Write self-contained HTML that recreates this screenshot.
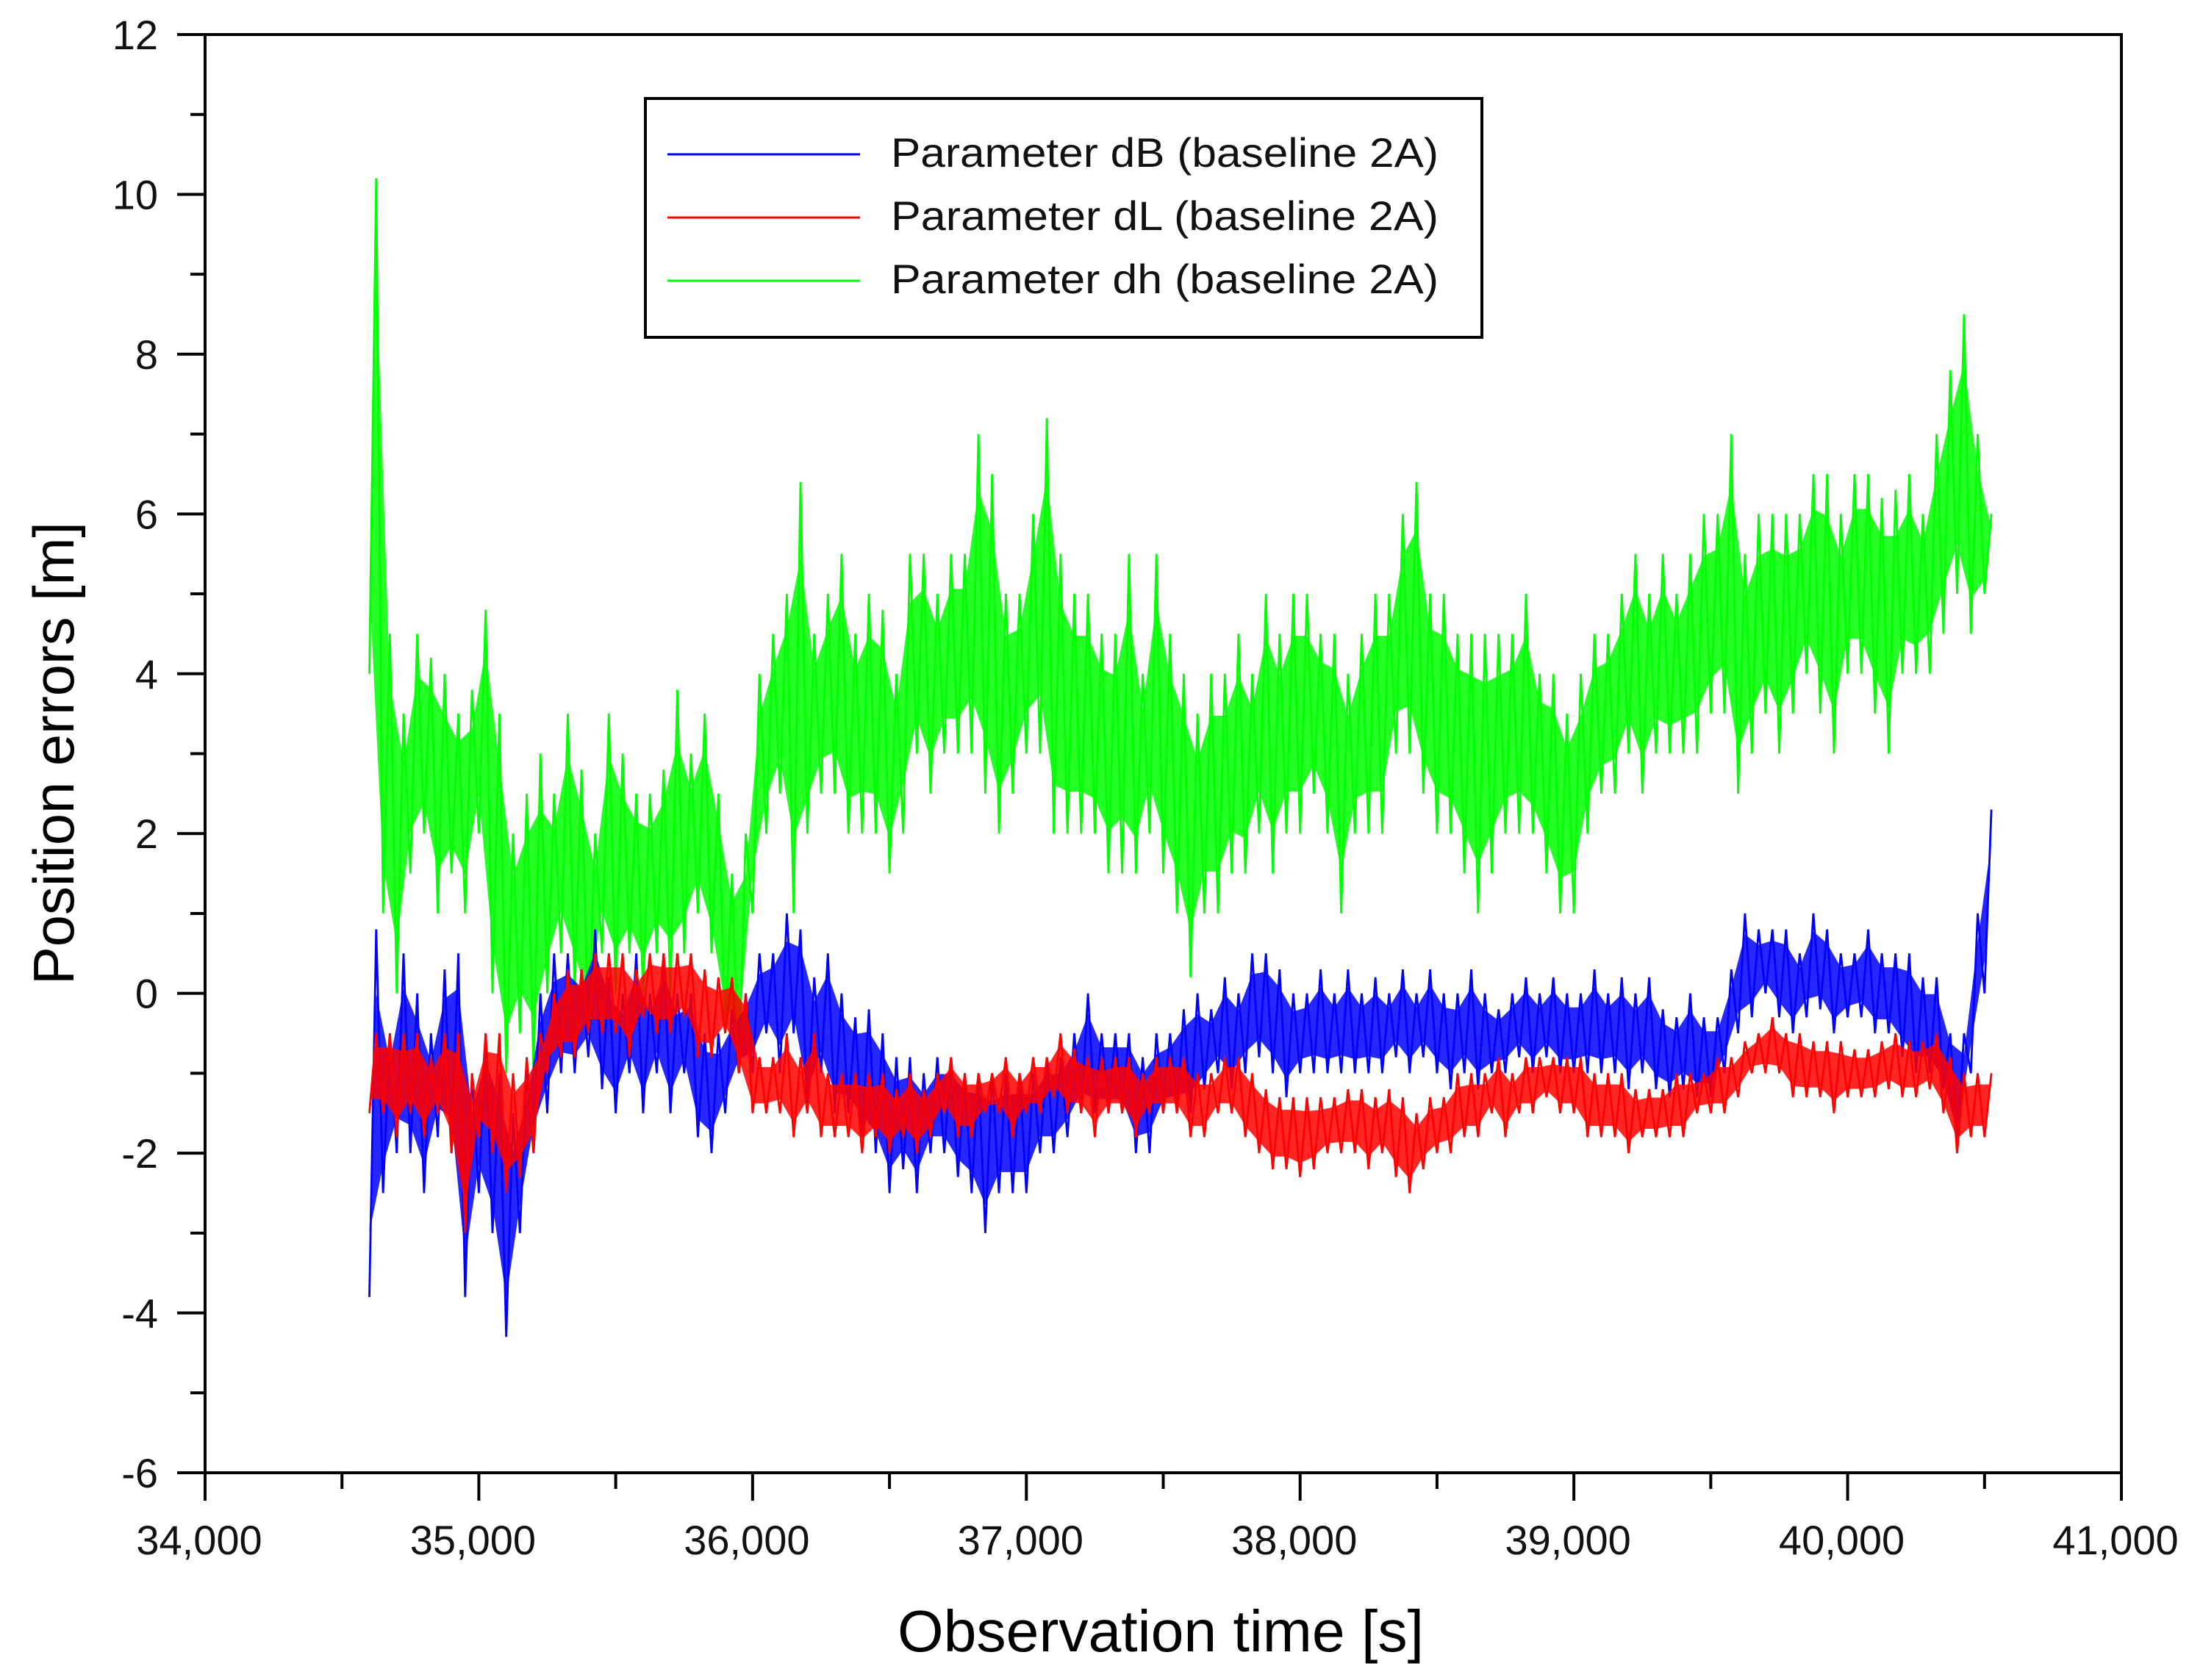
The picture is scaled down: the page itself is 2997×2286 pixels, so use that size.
<!DOCTYPE html>
<html><head><meta charset="utf-8"><style>
html,body{margin:0;padding:0;background:#fff;}
svg{display:block;font-family:"Liberation Sans",Arial,sans-serif;}
</style></head><body>
<svg id="chart" width="2997" height="2286" viewBox="0 0 2997 2286" xmlns="http://www.w3.org/2000/svg">
<rect width="2997" height="2286" fill="#fff"/>
<g id="series"></g>
<g id="axes"></g>
<g id="legend">
<rect x="878" y="134" width="1138" height="325" fill="#fff" stroke="#000" stroke-width="4"/>
<line x1="908" y1="210" x2="1170" y2="210" stroke="#0000ff" stroke-width="3"/>
<line x1="908" y1="296" x2="1170" y2="296" stroke="#ff0000" stroke-width="3"/>
<line x1="908" y1="382" x2="1170" y2="382" stroke="#00ff00" stroke-width="3"/>
<text x="1212" y="227" font-size="56" textLength="745" lengthAdjust="spacingAndGlyphs" fill="#111">Parameter dB (baseline 2A)</text>
<text x="1212" y="313" font-size="56" textLength="745" lengthAdjust="spacingAndGlyphs" fill="#111">Parameter dL (baseline 2A)</text>
<text x="1212" y="399" font-size="56" textLength="745" lengthAdjust="spacingAndGlyphs" fill="#111">Parameter dh (baseline 2A)</text>
</g>
<text x="1579" y="2247" font-size="80" text-anchor="middle" textLength="716" lengthAdjust="spacingAndGlyphs" fill="#000">Observation time [s]</text>
<text transform="translate(100,1025) rotate(-90)" font-size="78" text-anchor="middle" textLength="630" lengthAdjust="spacingAndGlyphs" fill="#000">Position errors [m]</text>
</svg>
<script>
const xTicks = [34000,35000,36000,37000,38000,39000,40000,41000];
const xTickLabels = ["34,000","35,000","36,000","37,000","38,000","39,000","40,000","41,000"];
const yTicks = [-6,-4,-2,0,2,4,6,8,10,12];
const yTickLabels = ["-6","-4","-2","0","2","4","6","8","10","12"];
const startTime = 34600;
const stepSec = 50;
const dhLo = [4,1,0,1.5,2,1,1.5,1,2,0,-1,-0.5,-1,0,0.5,0,-0.5,0.5,0,0.5,0,0.5,0,0.5,1,0.5,-0.5,-1,1,2,2.5,1,2,2.5,2.5,2,2,2,1.5,2,3,2.5,3,3,3,2.5,2,2.5,3,3,2,2,2,2,1.5,1.5,1.5,2,1.5,1,0.2,1,1,1.5,1.5,2,1.5,2,2,2.5,2,1,2,2,2,3,3,2.5,2,2,1.5,1,1.5,2,2,2,1.5,1,1,2,2.5,2.5,3,2.5,3,3,3,3,3.5,3.5,2.5,3,3.5,3,3.5,4,3.5,3,4,4,3.5,3,4,4,4,4.5,5,4.5,5];
const dhHi = [10.2,4.5,3.5,4.5,4.2,4,3.5,3.8,4.8,3.5,2,2.5,3,2.5,3.5,2.8,2,3.5,3,2.5,2.5,2.8,3.8,3,3.5,2.5,1.5,2,4,4.5,5,6.4,4.5,5,5.5,4.5,5,4.8,4,5.5,5.5,5,5.5,5.5,7,6.5,5,5,6,7.2,5.5,5,5,4.5,4.5,5.5,4,5.5,4.5,4,3.5,4,4,4.5,4,5,4.5,5,5,4.5,4.5,4,4.5,5,5,6,6.4,5,5,4.5,4.5,4.5,4.5,4.5,5,4,4,3.5,4,4.5,4.5,5,5.5,5,5.5,5,5.5,6,6,7,5.5,6,6,6,6,6.5,6.5,6,6.5,6.5,6.2,6.3,6.5,6,7,7.8,8.5,7,6];
const dbLo = [-3.8,-2.5,-2,-2,-2.5,-1.8,-2,-3.8,-2.5,-3,-4.3,-3,-2,-1.5,-1,-1,-0.8,-1.2,-1.5,-1,-1.5,-1,-1.5,-1,-1.8,-2,-1.5,-1,-1,-0.5,-1,-0.5,-1.5,-1,-1.5,-1.5,-1.8,-2,-2.5,-2.2,-2.5,-2,-2,-2.3,-2.5,-3,-2.5,-2.5,-2.5,-2,-2,-1.8,-1.5,-1.5,-1.5,-1.5,-2,-2,-1.5,-1.5,-1.5,-1.2,-1,-1.2,-1,-0.8,-1,-1.3,-1,-1,-1,-1,-1,-1,-1,-0.8,-1,-0.8,-1,-1.2,-1,-1.2,-1,-1,-0.8,-1,-0.8,-1,-1,-1,-1,-1,-1.2,-1,-1.2,-1.3,-1.2,-1.3,-1.3,-1,-0.5,-0.3,0,-0.3,-0.5,-0.3,-0.2,-0.5,-0.3,-0.3,-0.5,-0.5,-0.8,-1,-1,-1.2,-2,-1,0];
const dbHi = [0.8,-0.5,0.5,0,-0.5,0.3,0.5,-1,-0.5,-1,-1.5,-1,0,0.5,0.5,0.3,0.8,0.2,0,0.5,0,0.5,0,0,-0.5,-0.5,-0.2,0,0.5,0.5,1,0.8,0.2,0.5,0,-0.3,-0.2,-0.5,-0.8,-0.8,-1,-0.8,-0.8,-1,-1,-1,-1,-1,-1,-0.8,-0.8,-0.5,0,-0.5,-0.5,-0.5,-0.8,-0.5,-0.5,-0.2,0,-0.2,0.2,0,0.5,0.5,0.3,0,0,0.3,0,0.3,0,0.2,0,0.3,0,0.3,0,0,0.3,0,-0.2,0,0.2,0,0.2,0,0,0.3,0,0.2,0,0.2,-0.2,-0.3,0,-0.3,-0.3,0.3,1,0.8,0.8,0.8,0.5,1,0.8,0.5,0.5,0.8,0.5,0.5,0.5,0.2,0.2,-0.5,-0.5,1,2.3];
const dlLo = [-1.5,-1.5,-1.8,-1.5,-1.8,-1.5,-2,-3,-1.8,-2,-2.5,-2.3,-2,-1,-0.8,-0.8,-0.5,-0.5,-0.5,-0.8,-0.3,-0.5,-0.5,-0.3,-0.8,-0.8,-0.5,-1,-1.5,-1.5,-1.5,-1.8,-1.5,-1.8,-1.8,-1.8,-2,-1.8,-2,-1.8,-2,-1.8,-1.5,-1.8,-1.8,-1.5,-1.5,-1.8,-1.5,-1.5,-1.3,-1.5,-1.5,-1.8,-1.5,-1.5,-1.8,-1.5,-1.5,-1.5,-1.8,-1.8,-1.5,-1.5,-1.8,-2,-2.2,-2.2,-2.3,-2.2,-2,-2,-2,-2.2,-2,-2.3,-2.5,-2.2,-2,-2,-1.8,-1.8,-1.5,-1.8,-1.5,-1.5,-1.3,-1.5,-1.5,-1.8,-1.8,-1.8,-2,-1.8,-1.8,-1.8,-1.8,-1.5,-1.5,-1.5,-1.3,-1,-1,-1,-1.3,-1.3,-1.3,-1.5,-1.3,-1.3,-1.3,-1.2,-1.3,-1.3,-1.2,-1.5,-2,-1.8,-1.8];
const dlHi = [-0.5,-0.5,-0.5,-0.5,-0.8,-0.5,-0.5,-1,-0.5,-0.5,-1,-0.8,-0.5,0,0.3,0.3,0.5,0.5,0.5,0.3,0.5,0.5,0.5,0.5,0.3,0.2,0.2,0,-0.8,-0.8,-0.5,-0.8,-0.5,-1,-1,-1,-1,-1,-1.2,-1,-1.2,-1,-0.8,-1,-1,-1,-0.8,-1,-0.8,-0.8,-0.5,-0.7,-0.8,-0.8,-0.8,-0.8,-1,-0.8,-0.8,-0.8,-1,-1,-0.8,-0.8,-1,-1.2,-1.3,-1.3,-1.3,-1.3,-1.3,-1.2,-1.2,-1.3,-1.2,-1.3,-1.5,-1.3,-1.3,-1,-1,-1,-0.8,-1,-0.8,-0.8,-0.8,-0.8,-0.8,-1,-1,-1,-1.2,-1.2,-1.2,-1,-1,-1,-0.8,-0.8,-0.6,-0.5,-0.3,-0.5,-0.5,-0.6,-0.6,-0.6,-0.7,-0.7,-0.6,-0.5,-0.6,-0.6,-0.5,-0.8,-1,-1,-1];

const NS = "http://www.w3.org/2000/svg";
const L = 279, R = 2886, T = 47, B = 2004;
const xMin = 34000, xMax = 41000, yMin = -6, yMax = 12;
function xScale(v){ return L + (v - xMin) / (xMax - xMin) * (R - L); }
function yScale(v){ return B - (v - yMin) / (yMax - yMin) * (B - T); }
function mk(tag, attrs, parent){
  const e = document.createElementNS(NS, tag);
  for (const k in attrs) e.setAttribute(k, attrs[k]);
  parent.appendChild(e);
  return e;
}
const axes = document.getElementById('axes');
const series = document.getElementById('series');

function drawSeries(lo, hi, color, name){
  // envelope band between low and high values
  let top = [], bot = [];
  for (let i = 0; i < lo.length; i++){
    const t = startTime + i * stepSec;
    const m = (lo[i] + hi[i]) / 2;
    const bh = hi[i] - (hi[i] - m) * 0.35;
    const bl = lo[i] + (m - lo[i]) * 0.35;
    top.push(xScale(t + stepSec / 2).toFixed(1) + "," + yScale(bh).toFixed(1));
    bot.unshift(xScale(t).toFixed(1) + "," + yScale(bl).toFixed(1));
  }
  const band = mk('polygon', {points: top.concat(bot).join(" "), fill: color, "fill-opacity": 0.85, stroke: "none"}, series);
  
  
  let pts = [];
  for (let i = 0; i < lo.length; i++){
    const t = startTime + i * stepSec;
    pts.push(xScale(t).toFixed(1) + "," + yScale(lo[i]).toFixed(1));
    pts.push(xScale(t + stepSec / 2).toFixed(1) + "," + yScale(hi[i]).toFixed(1));
  }
  const p = mk('polyline', {points: pts.join(" "), fill: "none", stroke: color, "stroke-width": 2.8, "stroke-linejoin": "miter"}, series);
  
  
}
drawSeries(dhLo, dhHi, "#00ff00", "series-dh");
drawSeries(dbLo, dbHi, "#0000ff", "series-db");
drawSeries(dlLo, dlHi, "#ff0000", "series-dl");

const frame = mk('rect', {x: L, y: T, width: R - L, height: B - T, fill: "none", stroke: "#000", "stroke-width": 4}, axes);



xTicks.forEach((v, i) => {
  const x = xScale(v);
  const tk = mk('line', {x1: x, y1: B, x2: x, y2: B + 38, stroke: "#000", "stroke-width": 4}, axes);
  
  
  const lb = mk('text', {x: x - 8, y: 2115, "font-size": 56, "text-anchor": "middle", fill: "#111"}, axes);
  lb.textContent = xTickLabels[i];
  
  
  if (i < xTicks.length - 1){
    const xm = xScale(v + 500);
    const mt = mk('line', {x1: xm, y1: B, x2: xm, y2: B + 22, stroke: "#000", "stroke-width": 4}, axes);
    
    
  }
});
yTicks.forEach((v, i) => {
  const y = yScale(v);
  const tk = mk('line', {x1: L - 38, y1: y, x2: L, y2: y, stroke: "#000", "stroke-width": 4}, axes);
  
  
  const lb = mk('text', {x: 215, y: y + 20, "font-size": 56, "text-anchor": "end", fill: "#111"}, axes);
  lb.textContent = yTickLabels[i];
  
  
  if (i < yTicks.length - 1){
    const ym = yScale(v + 1);
    const mt = mk('line', {x1: L - 20, y1: ym, x2: L, y2: ym, stroke: "#000", "stroke-width": 4}, axes);
    
    
  }
});
</script>
</body></html>
